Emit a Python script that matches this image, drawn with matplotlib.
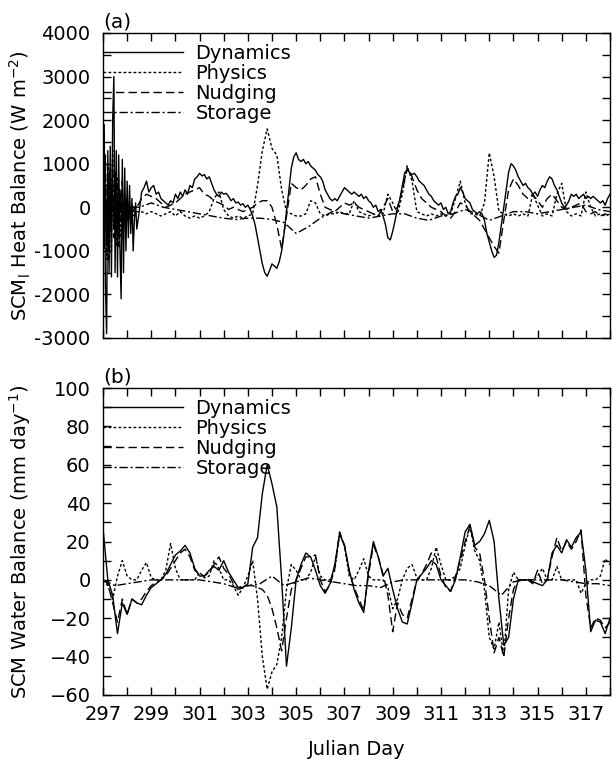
import numpy as np
import matplotlib.pyplot as plt
from matplotlib.ticker import FixedLocator, MultipleLocator, FuncFormatter

plt.rcParams['font.family'] = ['DejaVu Sans']

labels = ['Dynamics', 'Physics', 'Nudging', 'Storage']
styles = ['-', (0, (2, 1.6)), (0, (6, 3)), (0, (6, 2, 1.5, 2))]

# ---- panel (a): heat balance (W m-2) ----
# early noisy stretch, 297.00 - 298.40 every 0.05 day
day_a_early = np.round(np.arange(297.0, 298.41, 0.05), 2)
dyn_a_early = [1000, 1900, -1800, -2900, 1300, -1500, 1400, -1600, 2000, 3000,
               -1500, 1300, -1600, 1200, -900, -2100, 1100, -1500, 900, -1000,
               600, -700, 500, -600, 200, -1000, -300, 100, -500]
phy_a_early = [1500, -800, 900, -1200, 1000, -600, 800, -1000, 1300, -400,
               600, -900, 700, -500, 400, -700, 300, -400, 200, -300,
               100, -200, 0, -300, -100, -200, -100, -150, -100]
nud_a_early = [2400, -1000, 1200, -800, 700, -1200, 900, -500, 1100, -700,
               800, -600, 500, -900, 400, -300, 600, -500, 300, -400,
               200, -300, 100, -200, 50, -100, 0, -50, 0]
sto_a_early = [1900, -600, 500, -900, 600, -400, 700, -300, 400, -500,
               300, -200, 200, -400, 300, -100, 150, -200, 100, -100,
               50, -50, 0, 0, 50, 0, 0, 20, 0]

# dynamics every 0.1 day from 298.5
day_dyn_a = np.round(np.arange(298.5, 318.01, 0.1), 2)
dyn_a = [-100, 350, 450, 600, 350, 450, 500, 300, 350, 200,
         150, 100, 50, 150, 100, 300, 200, 350, 250, 400,
         300, 500, 450, 650, 700, 780, 720, 750, 650, 700,
         550, 400, 300, 250, 350, 300, 320, 250, 150, 200,
         100, 120, 50, 80, 0, 50, -50, -200, -400, -700,
         -1000, -1300, -1500, -1580, -1450, -1300, -1350, -1400, -1250, -1000,
         -600, -100, 400, 900, 1150, 1250, 1100, 1050, 1100, 1000,
         1050, 950, 900, 850, 750, 700, 600, 400, 300, 200,
         150, 200, 150, 250, 350, 450, 400, 350, 300, 350,
         300, 250, 300, 200, 250, 150, 100, 0, 50, -100,
         -50, -200, -400, -700, -750, -550, -300, 0, 200, 500,
         800, 850, 800, 750, 780, 700, 600, 550, 500, 400,
         300, 250, 150, 100, 50, 100, -50, 0, -150, -100,
         100, 250, 300, 450, 350, 200, 150, 100, -50, -100,
         -150, -100, -150, -300, -600, -800, -1000, -1150, -1100, -800,
         -400, 0, 400, 800, 1000, 950, 850, 700, 600, 500,
         550, 450, 400, 300, 350, 250, 400, 500, 450, 600,
         700, 650, 500, 400, 250, 100, 0, 50, 150, 300,
         250, 300, 200, 250, 300, 200, 250, 200, 250, 200,
         150, 100, 150, 50, 200, 300]

# physics and nudging every 0.2 day from 298.6
day_a = np.round(np.arange(298.6, 318.01, 0.2), 2)
phy_a = [-100, -150, -100, -150, -200, -150, -100, -200, -100, -200,
         -250, -200, -250, -200, -100, 200, 350, -50, -200, -250,
         -200, -250, -200, -150, 500, 1300, 1800, 1350, 1200, 400,
         -100, -150, -200, -200, -150, 150, 100, -150, -200, -150,
         -150, -100, -150, -150, 150, -100, -150, -200, -150, -200,
         -150, 300, 100, -150, 300, 950, 600, -100, -150, -200,
         -150, -200, -150, -200, -150, 200, 600, 100, -150, -150,
         -200, 100, 1250, 700, -100, -150, -200, -150, -200, -150,
         -200, 300, 50, -200, -150, -200, 300, 550, -100, -200,
         -150, -200, 350, 0, -200, -150, -200, -150]
nud_a = [200, 300, 250, 200, 100, 0, 50, 100, 200, 300,
         350, 400, 450, 300, 250, 150, 100, 50, -50, 0,
         -50, -100, -50, 0, 100, 150, 150, 0, -400, -950,
         -200, 550, 450, 400, 500, 650, 700, 300, 0, -50,
         -100, 0, 100, 50, 100, 0, -50, -100, -150, -200,
         0, 200, -100, 0, 400, 900, 700, 400, 200, 100,
         0, -50, -100, -200, -250, -100, 100, 50, -100, -200,
         -300, -500, -700, -900, -1050, -300, 400, 650, 500, 300,
         200, 300, 150, 0, 200, 300, 150, 0, -50, 0,
         50, 100, -100, -150, -100, -200, -150, -200]

# storage every 0.5 day from 298.5
day_sto_a = np.round(np.arange(298.5, 318.01, 0.5), 2)
sto_a = [0, 100, 0, -50, -100, -150, -200, -250, -280, -250,
         -250, -280, -350, -600, -450, -250, -100, -150, -200, -250,
         -200, -150, -150, -250, -300, -200, -150, -50, -150, -300,
         -200, -100, -100, -150, -100, -50, 0, 50, -50, -100]

# ---- panel (b): water balance (mm day-1), every 0.2 day ----
day_b = np.round(np.arange(297.0, 318.01, 0.2), 2)
dyn_b = [27, 0, -8, -28, -12, -18, -10, -12, -13, -8,
         -4, -2, 0, 3, 8, 13, 15, 18, 14, 6,
         2, 2, 5, 7, 5, 10, 4, 0, -4, -4,
         -2, 17, 22, 45, 60, 50, 38, 0, -45, -25,
         0, 8, 14, 12, 5, -3, -7, -2, 8, 24,
         18, 5, -5, -12, -17, 5, 20, 12, 2, 6,
         -5, -15, -22, -23, -12, 0, 3, 6, 10, 8,
         0, -3, -6, 0, 12, 25, 29, 18, 20, 24,
         31, 20, -10, -34, -30, -10, 0, 0, 0, -1,
         -2, -3, 0, 14, 18, 14, 21, 17, 22, 25,
         5, -27, -21, -22, -28, -20]
phy_b = [0, -3, -10, 2, 10, 2, 0, 0, 5, 9,
         1, 0, 0, 5, 19, 6, 0, 0, 0, 0,
         4, 1, 2, 10, 6, 0, 0, -3, -8, -4,
         2, 10, -10, -40, -57, -48, -44, -30, -5, 8,
         5, 0, 0, 4, 12, 2, 0, 0, 5, 24,
         18, 2, 0, 5, 11, 2, 0, 0, 0, -4,
         -15, -10, 0, 6, 8, 1, 0, 0, 6, 17,
         8, 0, 0, 2, 6, 18, 28, 15, 10, -5,
         -30, -36, -22, -40, -5, 4, 0, 0, 0, 0,
         2, 6, 0, 0, 7, 0, 0, 0, 0, -7,
         -2, 0, 0, 2, 11, 8]
nud_b = [0, -2, -12, -22, -10, -18, -10, -12, -10, -6,
         -3, -1, 0, 2, 6, 10, 14, 16, 12, 5,
         3, 2, 4, 8, 12, 6, 3, -2, -5, -4,
         -3, -3, -4, -5, -8, -15, -25, -37, -20, -5,
         0, 6, 12, 12, 13, 0, -6, -3, 6, 25,
         18, 4, -4, -10, -16, 3, 18, 12, 3, -8,
         -27, -12, -18, -20, -10, 0, 3, 8, 14, 12,
         2, -4, -6, 2, 10, 20, 28, 17, 14, 0,
         -20, -38, -30, -40, -20, -5, 0, 0, 0, -2,
         5, -2, 0, 12, 22, 15, 20, 16, 20, 26,
         -8, -25, -20, -21, -25, -22]
day_sto_b = np.round(np.arange(297.0, 318.01, 0.5), 2)
sto_b = [0, -3, -2, -1, 0, 0, 0, 0, 0, -1,
         -2, -4, -3, -2, 2, -3, -1, 1, 0, -1,
         -2, -3, -3, -4, -1, 0, 0, 0, 0, 0,
         0, -1, -3, -8, -1, 0, 0, 0, 0, -1,
         -2, -2, -3]

fs = 14
fig = plt.figure(figsize=(6.12, 7.67), dpi=100)
ax1 = fig.add_axes([103 / 612, 1 - 338 / 767, 507 / 612, 305 / 767])
ax2 = fig.add_axes([103 / 612, 1 - 695 / 767, 507 / 612, 307 / 767])

series_a = [
    (np.concatenate([day_a_early, day_dyn_a]), dyn_a_early + dyn_a),
    (np.concatenate([day_a_early, day_a]), phy_a_early + phy_a),
    (np.concatenate([day_a_early, day_a]), nud_a_early + nud_a),
    (np.concatenate([day_a_early, day_sto_a]), sto_a_early + sto_a),
]
series_b = [(day_b, dyn_b), (day_b, phy_b), (day_b, nud_b), (day_sto_b, sto_b)]

for ax, series in [(ax1, series_a), (ax2, series_b)]:
    for (x, y), lab, ls in zip(series, labels, styles):
        ax.plot(x, y, color='black', lw=1.0, ls=ls, label=lab)
    ax.set_xlim(297, 318)
    ax.xaxis.set_major_locator(FixedLocator(range(297, 318, 2)))
    ax.xaxis.set_minor_locator(FixedLocator(range(298, 319, 2)))
    ax.tick_params(which='both', direction='in', top=True, right=True,
                   length=6, width=1, labelsize=fs)
    ax.tick_params(axis='y', pad=9)
    ax.tick_params(axis='x', pad=7)
    for sp in ax.spines.values():
        sp.set_linewidth(1)
    ax.legend(loc='upper left', bbox_to_anchor=(0, 0.965), borderaxespad=0,
              borderpad=0, frameon=False, fontsize=fs, handlelength=4.1,
              handletextpad=0.65, labelspacing=0.05)
    ax.yaxis.set_label_coords(-0.138, 0.5)

ax1.set_ylim(-3000, 4000)
ax1.yaxis.set_major_locator(MultipleLocator(1000))
ax1.yaxis.set_minor_locator(MultipleLocator(500))
ax1.yaxis.set_major_formatter(FuncFormatter(lambda v, p: '%d' % v))
ax1.tick_params(labelbottom=False)
ax1.set_ylabel('SCM$_\\mathrm{l}$ Heat Balance (W m$^{-2}$)', fontsize=fs)
ax1.text(0.0, 1.005, '(a)', transform=ax1.transAxes, fontsize=fs + 0.5,
         ha='left', va='bottom')

ax2.set_ylim(-60, 100)
ax2.yaxis.set_major_locator(MultipleLocator(20))
ax2.yaxis.set_minor_locator(MultipleLocator(10))
ax2.set_ylabel('SCM Water Balance (mm day$^{-1}$)', fontsize=fs)
ax2.set_xlabel('Julian Day', fontsize=fs, labelpad=12)
ax2.text(0.0, 1.005, '(b)', transform=ax2.transAxes, fontsize=fs + 0.5,
         ha='left', va='bottom')

fig.savefig('out.png', dpi=100)
